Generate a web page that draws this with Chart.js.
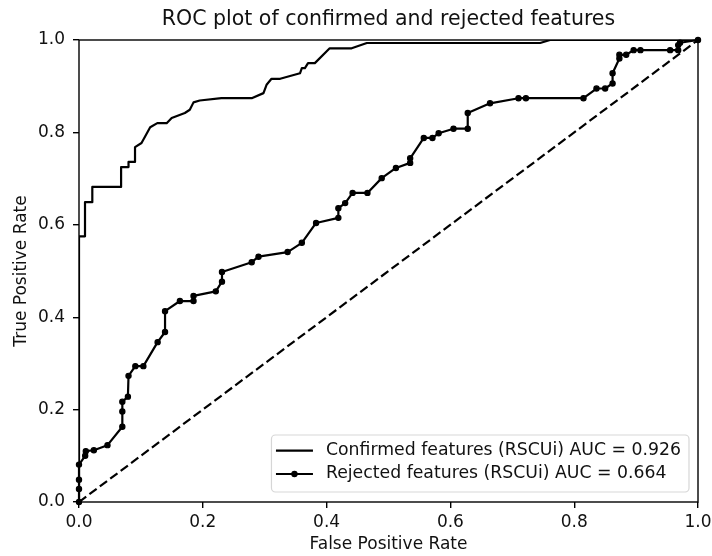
<!DOCTYPE html>
<html>
<head>
<meta charset="utf-8">
<title>ROC plot</title>
<script src="https://cdn.jsdelivr.net/npm/chart.js@4.4.1/dist/chart.umd.min.js"></script>
<style>
  html, body { margin: 0; padding: 0; background: #fff; }
  canvas { display: block; }
</style>
</head>
<body>
<canvas id="rocChart" width="712" height="556"></canvas>
<script>
const FONT = '"DejaVu Sans", "Liberation Sans", sans-serif';

const tickValues = [0, 0.2, 0.4, 0.6, 0.8, 1.0];

// ROC curve for confirmed features (no markers)
const confirmedFpr = [0, 0, 0.0097, 0.0097, 0.0215, 0.0215, 0.068, 0.068, 0.080, 0.080, 0.0905, 0.0905,
  0.101, 0.115, 0.1265, 0.1416, 0.1497, 0.171, 0.179, 0.185, 0.195, 0.230, 0.279, 0.298, 0.303, 0.311,
  0.325, 0.357, 0.360, 0.365, 0.370, 0.381, 0.405, 0.4405, 0.465, 0.745, 0.761, 1.0];
const confirmedTpr = [0, 0.575, 0.575, 0.649, 0.649, 0.682, 0.682, 0.725, 0.725, 0.736, 0.736, 0.768,
  0.777, 0.811, 0.820, 0.820, 0.831, 0.842, 0.849, 0.865, 0.869, 0.874, 0.874, 0.885, 0.903, 0.916,
  0.916, 0.928, 0.939, 0.939, 0.950, 0.950, 0.982, 0.982, 0.9935, 0.9935, 1.0, 1.0];

// ROC curve for rejected features (one dot per threshold)
const rejectedFpr = [0, 0, 0, 0, 0.010, 0.011, 0.024, 0.046, 0.070, 0.070, 0.070, 0.079, 0.080, 0.091,
  0.104, 0.127, 0.139, 0.139, 0.163, 0.185, 0.185, 0.221, 0.231, 0.231, 0.279, 0.290, 0.337, 0.360,
  0.383, 0.419, 0.419, 0.430, 0.442, 0.466, 0.489, 0.512, 0.535, 0.535, 0.557, 0.571, 0.581, 0.605,
  0.628, 0.628, 0.664, 0.710, 0.722, 0.815, 0.836, 0.850, 0.862, 0.862, 0.873, 0.873, 0.884, 0.896,
  0.907, 0.955, 0.968, 0.968, 0.971, 1.0];
const rejectedTpr = [0, 0.028, 0.048, 0.081, 0.100, 0.110, 0.112, 0.123, 0.163, 0.196, 0.217, 0.228,
  0.273, 0.294, 0.294, 0.346, 0.368, 0.413, 0.435, 0.435, 0.446, 0.456, 0.477, 0.498, 0.519, 0.531,
  0.541, 0.561, 0.604, 0.615, 0.636, 0.647, 0.669, 0.669, 0.701, 0.723, 0.734, 0.744, 0.788, 0.788,
  0.798, 0.808, 0.808, 0.842, 0.863, 0.874, 0.874, 0.874, 0.895, 0.895, 0.906, 0.928, 0.960, 0.968,
  0.968, 0.978, 0.978, 0.978, 0.978, 0.989, 0.994, 1.0];

// chance diagonal
const chanceFpr = [0, 1];
const chanceTpr = [0, 1];

const seriesLabels = [
  'Confirmed features (RSCUi) AUC = 0.926',
  'Rejected features (RSCUi) AUC = 0.664'
];

function toPoints(xs, ys) {
  return xs.map((x, i) => ({ x: x, y: ys[i] }));
}

// axes box drawn over the curves, like the spines
const frameBox = {
  id: 'frameBox',
  afterDatasetsDraw(chart) {
    const { ctx, chartArea: a } = chart;
    ctx.save();
    ctx.strokeStyle = '#000';
    ctx.lineWidth = 1.4;
    ctx.strokeRect(a.left, a.top, a.right - a.left, a.bottom - a.top);
    ctx.restore();
  }
};

// legend box in the lower right corner of the plot area
const cornerLegend = {
  id: 'cornerLegend',
  afterDraw(chart) {
    const { ctx, chartArea: a } = chart;
    const items = chart.data.datasets.filter(ds => ds.label);
    ctx.save();
    ctx.font = '17.3px ' + FONT;
    const textWidth = Math.max(...items.map(ds => ctx.measureText(ds.label).width));
    const padLeft = 4.5, handleLen = 37, gap = 13, padRight = 8;
    const w = padLeft + handleLen + gap + textWidth + padRight;
    const h = 57;
    const x = a.right - 9 - w;
    const y = a.bottom - 10 - h;

    ctx.beginPath();
    ctx.roundRect(x, y, w, h, 4);
    ctx.fillStyle = 'rgba(255,255,255,0.8)';
    ctx.fill();
    ctx.strokeStyle = 'rgba(204,204,204,0.8)';
    ctx.lineWidth = 1.2;
    ctx.stroke();

    items.forEach((ds, i) => {
      const cy = y + 15.7 + i * 23.3;
      const x0 = x + padLeft;
      ctx.beginPath();
      ctx.moveTo(x0, cy);
      ctx.lineTo(x0 + handleLen, cy);
      ctx.strokeStyle = ds.borderColor;
      ctx.lineWidth = ds.borderWidth;
      ctx.stroke();
      if (ds.pointRadius > 0) {
        ctx.beginPath();
        ctx.arc(x0 + handleLen / 2, cy, ds.pointRadius, 0, Math.PI * 2);
        ctx.fillStyle = ds.pointBackgroundColor;
        ctx.fill();
        ctx.lineWidth = ds.pointBorderWidth;
        ctx.strokeStyle = ds.pointBorderColor;
        ctx.stroke();
      }
      ctx.fillStyle = '#111';
      ctx.textAlign = 'left';
      ctx.textBaseline = 'middle';
      ctx.fillText(ds.label, x0 + handleLen + gap, cy);
    });
    ctx.restore();
  }
};

function axisOptions(titleText, isX) {
  return {
    type: 'linear',
    min: 0,
    max: 1,
    afterBuildTicks: scale => { scale.ticks = tickValues.map(v => ({ value: v })); },
    afterFit: scale => {
      if (isX) {
        scale.height = 54;
        scale.paddingLeft = 0;
        scale.paddingRight = 0;
      } else {
        scale.width = 79;
        scale.paddingTop = 0;
        scale.paddingBottom = 0;
      }
    },
    grid: { drawOnChartArea: false, drawTicks: true, tickLength: 6, color: '#000', lineWidth: 1.4 },
    border: { display: false },
    ticks: {
      autoSkip: false,
      maxRotation: 0,
      padding: isX ? 4 : 8,
      color: '#111',
      font: { family: FONT, size: 17 },
      callback: v => v.toFixed(1)
    },
    title: {
      display: true,
      text: titleText,
      color: '#111',
      font: { family: FONT, size: 17 },
      padding: isX ? { top: 0, bottom: 1 } : { top: 11, bottom: 0 }
    }
  };
}

new Chart(document.getElementById('rocChart').getContext('2d'), {
  type: 'line',
  data: {
    datasets: [
      {
        label: seriesLabels[0],
        data: toPoints(confirmedFpr, confirmedTpr),
        borderColor: '#000',
        borderWidth: 2.2,
        pointRadius: 0,
        tension: 0,
        borderJoinStyle: 'round'
      },
      {
        label: seriesLabels[1],
        data: toPoints(rejectedFpr, rejectedTpr),
        borderColor: '#000',
        borderWidth: 2.2,
        pointRadius: 2.6,
        pointBorderWidth: 1.2,
        pointBackgroundColor: '#000',
        pointBorderColor: '#000',
        tension: 0,
        borderJoinStyle: 'round',
        clip: false
      },
      {
        data: toPoints(chanceFpr, chanceTpr),
        borderColor: '#000',
        borderWidth: 2.2,
        borderDash: [9, 4],
        pointRadius: 0,
        tension: 0
      }
    ]
  },
  options: {
    responsive: false,
    animation: false,
    devicePixelRatio: 1,
    events: [],
    layout: { padding: { left: 0, right: 14, top: 0, bottom: 0 } },
    scales: {
      x: axisOptions('False Positive Rate', true),
      y: axisOptions('True Positive Rate', false)
    },
    plugins: {
      legend: { display: false },
      tooltip: { enabled: false },
      title: {
        display: true,
        fullSize: false,
        text: 'ROC plot of confirmed and rejected features',
        color: '#111',
        font: { family: FONT, size: 20.5, weight: 'normal', lineHeight: '24px' },
        padding: { top: 8, bottom: 8 }
      }
    }
  },
  plugins: [frameBox, cornerLegend]
});
</script>
</body>
</html>
